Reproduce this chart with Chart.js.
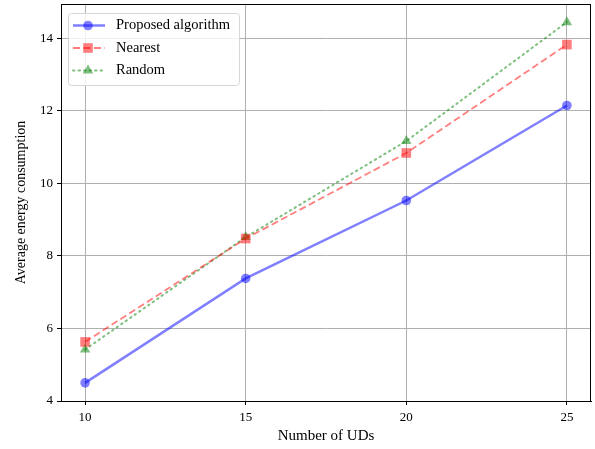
<!DOCTYPE html>
<html>
<head>
<meta charset="utf-8">
<script src="https://cdn.jsdelivr.net/npm/chart.js@4/dist/chart.umd.min.js"></script>
<style>
  html, body { margin: 0; padding: 0; background: #fff; }
  #wrap { width: 595px; height: 449px; }
</style>
</head>
<body>
<div id="wrap"><canvas id="myChart" width="595" height="449"></canvas></div>
<script>
// number of UDs on the x axis
const udCounts = [10, 15, 20, 25];
// average energy consumption per method
const proposed = [4.50, 7.38, 9.53, 12.15];
const nearest = [5.63, 8.48, 10.84, 13.83];
const random = [5.42, 8.52, 11.17, 14.45];
const xTicks = [10, 15, 20, 25];
const yTicks = [4, 6, 8, 10, 12, 14];

const serif = "'Liberation Serif', 'DejaVu Serif', serif";

function pts(vals) {
  return udCounts.map((x, i) => ({ x: x, y: vals[i] }));
}

// draws the top/right spines and the boxed legend like matplotlib
const framePlugin = {
  id: 'frame',
  afterDraw(chart) {
    const ctx = chart.ctx;
    const a = chart.chartArea;
    ctx.save();
    ctx.strokeStyle = '#000';
    ctx.lineWidth = 1;
    ctx.strokeRect(a.left + 0.5, a.top + 0.5, a.right - a.left - 1, a.bottom - a.top);

    // legend
    const bx = a.left + 7, by = a.top + 9, bw = 171, bh = 72;
    ctx.fillStyle = 'rgba(255,255,255,0.8)';
    ctx.strokeStyle = '#d6d6d6';
    ctx.beginPath();
    ctx.roundRect(bx + 0.5, by + 0.5, bw, bh, 3);
    ctx.fill();
    ctx.stroke();
    ctx.font = '14.5px ' + serif;
    ctx.textBaseline = 'middle';
    chart.data.datasets.forEach((ds, i) => {
      const y = by + 12.5 + i * 22.5;
      ctx.strokeStyle = ds.borderColor;
      ctx.lineWidth = ds.borderWidth;
      ctx.lineCap = ds.borderCapStyle || 'butt';
      ctx.setLineDash(ds.borderDash || []);
      ctx.beginPath();
      ctx.moveTo(bx + 5, y);
      ctx.lineTo(bx + 37, y);
      ctx.stroke();
      ctx.setLineDash([]);
      ctx.fillStyle = ds.pointBackgroundColor;
      const cx = bx + 20, r = ds.pointRadius;
      ctx.beginPath();
      if (ds.pointStyle === 'rect') {
        const h = r * Math.SQRT1_2;
        ctx.rect(cx - h, y - h, 2 * h, 2 * h);
      } else if (ds.pointStyle === 'triangle') {
        ctx.moveTo(cx, y - r);
        ctx.lineTo(cx + r * 0.866, y + r * 0.5);
        ctx.lineTo(cx - r * 0.866, y + r * 0.5);
        ctx.closePath();
      } else {
        ctx.arc(cx, y, r, 0, Math.PI * 2);
      }
      ctx.fill();
      ctx.fillStyle = '#000';
      ctx.fillText(ds.label, bx + 48, y);
    });
    ctx.restore();
  }
};

const data = {
  datasets: [
    {
      label: 'Proposed algorithm',
      data: pts(proposed),
      borderColor: 'rgba(0,0,255,0.5)',
      backgroundColor: 'rgba(0,0,255,0.5)',
      pointBackgroundColor: 'rgba(0,0,255,0.5)',
      pointBorderColor: 'rgba(0,0,255,0.5)',
      borderWidth: 2.5,
      pointStyle: 'circle',
      pointRadius: 4.8,
      pointBorderWidth: 0,
    },
    {
      label: 'Nearest',
      data: pts(nearest),
      borderColor: 'rgba(255,0,0,0.5)',
      backgroundColor: 'rgba(255,0,0,0.5)',
      pointBackgroundColor: 'rgba(255,0,0,0.5)',
      pointBorderColor: 'rgba(255,0,0,0.5)',
      borderWidth: 1.8,
      borderDash: [7, 3.5],
      pointStyle: 'rect',
      pointRadius: 6.8,
      pointBorderWidth: 0,
    },
    {
      label: 'Random',
      data: pts(random),
      borderColor: 'rgba(0,128,0,0.5)',
      backgroundColor: 'rgba(0,128,0,0.5)',
      pointBackgroundColor: 'rgba(0,128,0,0.5)',
      pointBorderColor: 'rgba(0,128,0,0.5)',
      borderWidth: 2,
      borderDash: [1.5, 4],
      borderCapStyle: 'round',
      pointStyle: 'triangle',
      pointRadius: 6,
      pointBorderWidth: 0,
    },
  ],
};

const config = {
  type: 'line',
  data: data,
  options: {
    responsive: false,
    animation: false,
    devicePixelRatio: 1,
    layout: { autoPadding: false, padding: { left: 0, right: 4, top: 4, bottom: 0 } },
    plugins: { legend: { display: false }, tooltip: { enabled: false } },
    scales: {
      x: {
        type: 'linear',
        min: 9.25,
        max: 25.75,
        afterBuildTicks: (s) => { s.ticks = xTicks.map((v) => ({ value: v })); },
        afterFit: (s) => { s.height = 48; s.paddingLeft = 0; s.paddingRight = 0; },
        grid: { color: '#b0b0b0', lineWidth: 1, tickLength: 4, tickColor: '#000' },
        border: { display: true, color: '#000', width: 1 },
        ticks: { color: '#000', font: { family: serif, size: 13 }, padding: 5, maxRotation: 0 },
        title: { display: true, text: 'Number of UDs', color: '#000', font: { family: serif, size: 15 }, padding: { top: 1 } },
      },
      y: {
        type: 'linear',
        min: 4,
        max: 14.95,
        afterBuildTicks: (s) => { s.ticks = yTicks.map((v) => ({ value: v })); },
        afterFit: (s) => { s.width = 61; s.paddingTop = 0; s.paddingBottom = 0; },
        grid: { color: '#b0b0b0', lineWidth: 1, tickLength: 4, tickColor: '#000' },
        border: { display: true, color: '#000', width: 1 },
        ticks: { color: '#000', font: { family: serif, size: 13 }, padding: 4 },
        title: { display: true, text: 'Average energy consumption', color: '#000', font: { family: serif, size: 14 }, padding: { top: 13 } },
      },
    },
  },
  plugins: [framePlugin],
};

var myChart = new Chart(document.getElementById('myChart'), config);
</script>
</body>
</html>
